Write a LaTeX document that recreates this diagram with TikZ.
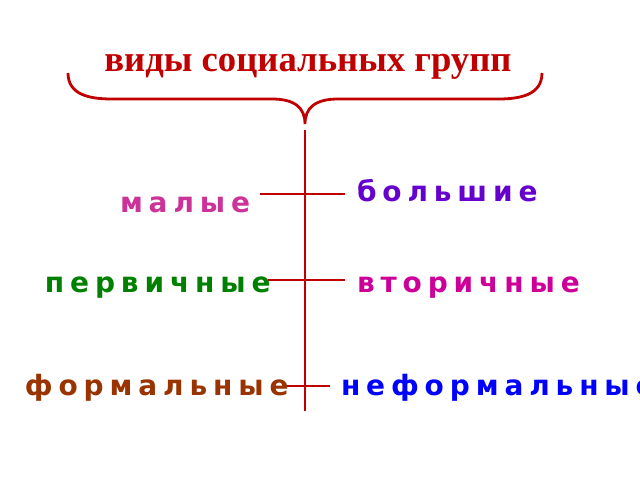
\documentclass[tikz,border=0pt]{standalone}
\usepackage{fontspec}
\setmainfont{Liberation Serif}
\newfontfamily\grpfont{DejaVu Sans}[LetterSpace=21]
\usetikzlibrary{positioning}
\definecolor{darkred}{RGB}{192,0,0}
\definecolor{smallc}{RGB}{204,51,153}
\definecolor{bigc}{RGB}{102,0,204}
\definecolor{firstc}{RGB}{0,128,0}
\definecolor{secondc}{RGB}{204,0,153}
\definecolor{formc}{RGB}{153,51,0}
\definecolor{infc}{RGB}{0,0,255}

\begin{document}
\begin{tikzpicture}[x=0.75pt,y=-0.75pt]
	\tikzstyle{every node}=[inner sep=0pt,outer sep=0pt]
	\tikzstyle{grp}=[font=\grpfont\bfseries\fontsize{21}{25}\selectfont]
	\tikzstyle{bar}=[draw=darkred,line width=2.1pt]

	\useasboundingbox (0,0) rectangle (640,480);
	\clip (0,0) rectangle (640,480);

	\node[anchor=base,text=darkred,font=\bfseries\fontsize{27.5}{32}\selectfont] (title) at (308,71) {виды социальных групп};

	% brace
	\coordinate (tip) at (305,124);
	\draw[bar] (68,73) .. controls (68,95) and (90,99) .. (112,99) -- (272,99)
		.. controls (295,99) and (305,108) .. (tip)
		.. controls (305,108) and (315,99) .. (338,99) -- (498,99)
		.. controls (520,99) and (542,95) .. (542,73);

	% trunk
	\coordinate (top) at (305,130);
	\coordinate (bottom) at (305,411);
	\draw[bar] (top) -- (bottom);

	% branches
	\coordinate (a1) at (260,194); \coordinate (a2) at (345,194);
	\coordinate (b1) at (268,280); \coordinate (b2) at (345,280);
	\coordinate (c1) at (284,386); \coordinate (c2) at (330,386);
	\draw[bar] (a1) -- (a2);
	\draw[bar] (b1) -- (b2);
	\draw[bar] (c1) -- (c2);

	\node[grp,text=smallc,anchor=base west] (small) at (120,212) {малые};
	\node[grp,text=bigc,anchor=base west] (big) at (357,201) {большие};
	\node[grp,text=firstc,anchor=base west] (first) at (45,292) {первичные};
	\node[grp,text=secondc,anchor=base west] (second) at (357,292) {вторичные};
	\node[grp,text=formc,anchor=base west] (formal) at (25,395) {формальные};
	\node[grp,text=infc,anchor=base west] (informal) at (341,395) {неформальные};

\end{tikzpicture}
\end{document}
